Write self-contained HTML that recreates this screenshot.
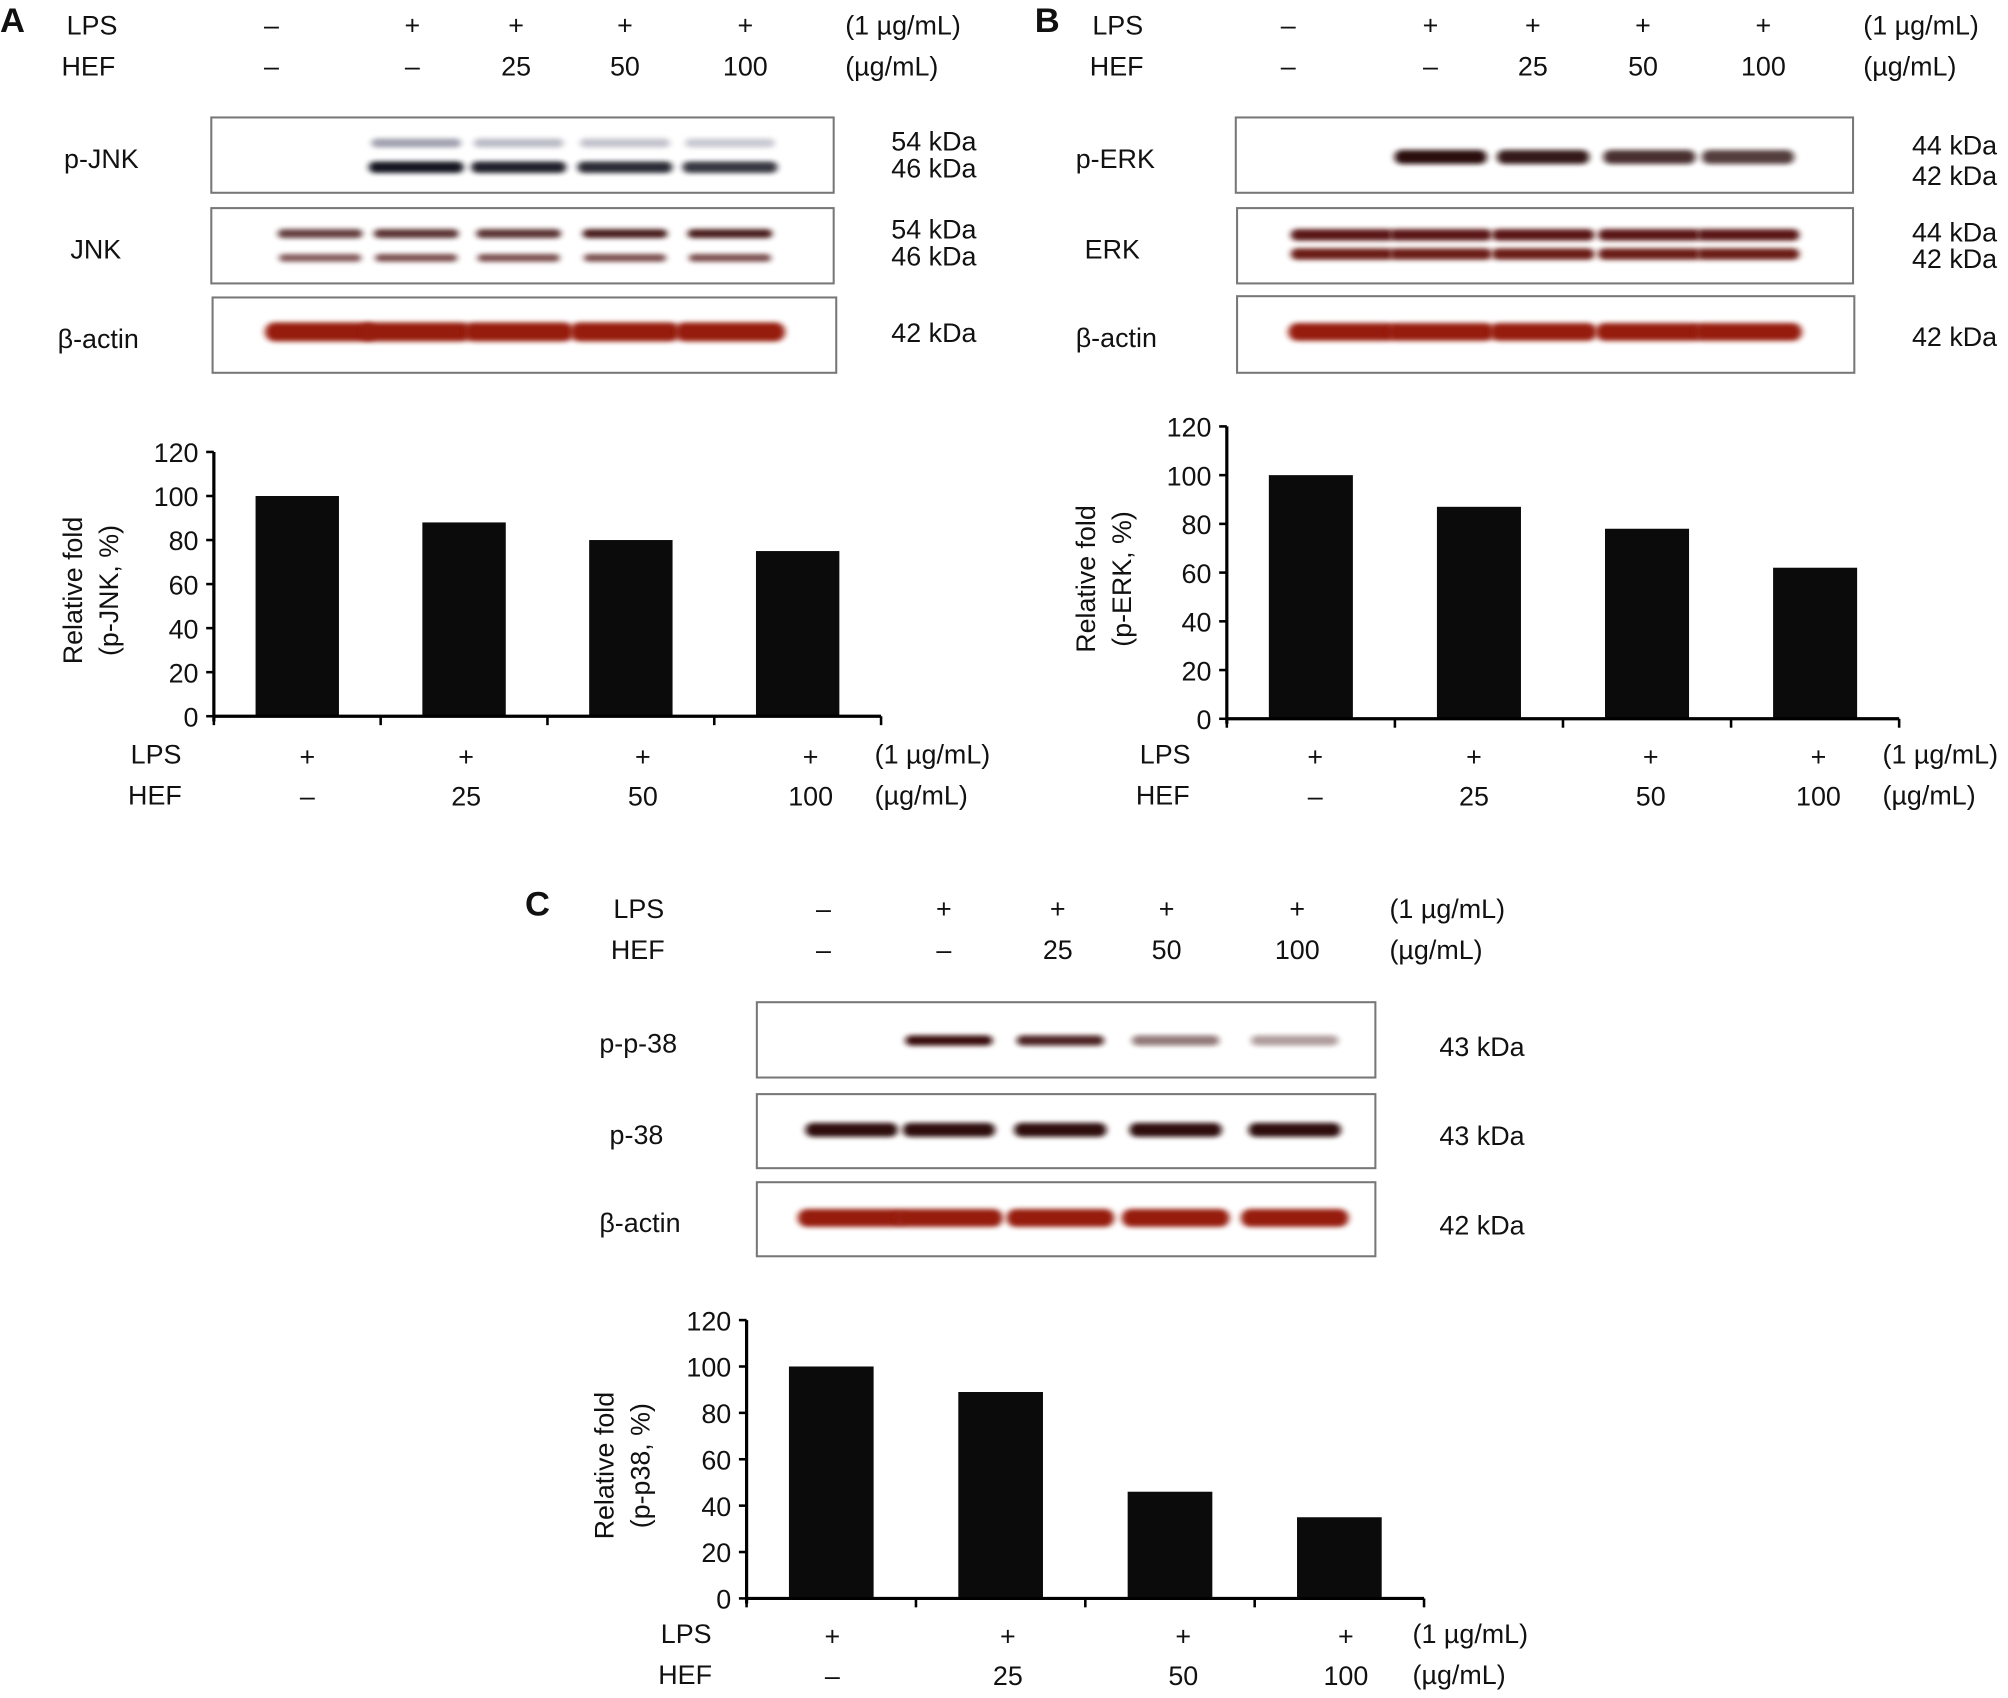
<!DOCTYPE html>
<html><head><meta charset="utf-8"><style>
html,body{margin:0;padding:0;background:#fff;}
svg{display:block;}
text{font-family:"Liberation Sans",sans-serif;fill:#111;}
</style></head><body>
<svg id="fig" width="2008" height="1698" viewBox="0 0 1568 1330" preserveAspectRatio="none" xmlns="http://www.w3.org/2000/svg">
<defs>
<filter id="blur" x="-20%" y="-100%" width="140%" height="300%"><feGaussianBlur stdDeviation="2.5 1.8"/></filter>
</defs>
<g id="root"></g>
</svg>
<script>
// ---- chart data ----
const categories = ["LPS+ / HEF–", "LPS+ / HEF 25", "LPS+ / HEF 50", "LPS+ / HEF 100"];
const jnkValues = [100, 88, 80, 75];
const erkValues = [100, 87, 78, 62];
const p38Values = [100, 89, 46, 35];
const yTicks = [0, 20, 40, 60, 80, 100, 120];
const lpsLabels = ["+", "+", "+", "+"];
const hefLabels = ["–", "25", "50", "100"];
const topLps = ["–", "+", "+", "+", "+"];
const topHef = ["–", "–", "25", "50", "100"];

const NS = "http://www.w3.org/2000/svg";
const root = document.getElementById('root');
function el(tag, attrs, parent, txt) {
  const e = document.createElementNS(NS, tag);
  for (const k in attrs) e.setAttribute(k, attrs[k]);
  if (txt !== undefined) e.textContent = txt;
  (parent || root).appendChild(e);
  return e;
}
function txt(x, y, s, name, opts) {
  opts = opts || {};
  const t = el('text', {x: x, y: y, 'font-size': opts.size || 21, 'text-anchor': opts.anchor || 'start', 'font-weight': opts.weight || 'normal'}, opts.parent, s);
  if (opts.transform) t.setAttribute('transform', opts.transform);
  
  
  return t;
}

function header(letter, lx, lpsX, hefX, colX, unitX, y0) {
  txt(lx, y0 + 12, letter, 'panel-label-' + letter.toLowerCase(), {size: 27, weight: 'bold'});
  txt(lpsX, y0 + 14, 'LPS', 'lps-row-label');
  txt(hefX, y0 + 46, 'HEF', 'hef-row-label');
  colX.forEach((x, i) => {
    txt(x, y0 + 14, topLps[i], 'lps-sign', {anchor: 'middle'});
    txt(x, y0 + 46, topHef[i], 'hef-dose', {anchor: 'middle'});
  });
  txt(unitX, y0 + 14, '(1 µg/mL)', 'lps-unit');
  txt(unitX, y0 + 46, '(µg/mL)', 'hef-unit');
}

function blot(x0, x1, y0, y1, label, labelX, kdas, kdaX, bands) {
  const g = el('g', {});
  
  
  el('rect', {x: x0, y: y0, width: x1 - x0, height: y1 - y0, fill: '#fff', stroke: '#777', 'stroke-width': 1.6}, g);
  bands.forEach(b => {
    const r = el('rect', {x: b.cx - b.w / 2, y: b.cy - b.h / 2, width: b.w, height: b.h, rx: b.h / 2, fill: b.c, filter: 'url(#blur)', opacity: b.o || 1}, g);
    
    
  });
  txt(labelX, (y0 + y1) / 2 + 10, label, 'blot-label', {parent: g});
  kdas.forEach(k => txt(kdaX, k.y + 8, k.t, 'kda-label', {parent: g}));
}

function chart(id, vals, ax, x1, y0px, y120px, ticks, labX, title, lpsX, hefX, signX, unitX, lpsY) {
  const g = el('g', {});
  
  
  const ys = v => y0px - (y0px - y120px) * v / 120;
  const bw = (x1 - ax) / vals.length;
  const xs = i => ax + bw * i + bw / 2;
  vals.forEach((v, i) => {
    const r = el('rect', {x: xs(i) - bw * 0.25, y: ys(v), width: bw * 0.5, height: y0px - ys(v), fill: '#0b0b0b'}, g);
    
    
  });
  el('line', {x1: ax, y1: y120px, x2: ax, y2: y0px + 4, stroke: '#000', 'stroke-width': 2.5}, g);
  el('line', {x1: ax, y1: y0px, x2: x1, y2: y0px, stroke: '#000', 'stroke-width': 2.5}, g);
  yTicks.forEach(t => {
    el('line', {x1: ax - 6, y1: ys(t), x2: ax, y2: ys(t), stroke: '#000', 'stroke-width': 2}, g);
    txt(ax - 12, ys(t) + 8, String(t), 'y-tick-label', {anchor: 'end', parent: g});
  });
  for (let i = 0; i <= vals.length; i++) {
    el('line', {x1: ax + bw * i, y1: y0px, x2: ax + bw * i, y2: y0px + 7, stroke: '#000', 'stroke-width': 2}, g);
  }
  txt(0, 0, 'Relative fold', 'y-axis-title', {anchor: 'middle', parent: g, transform: `translate(${labX + 2},${(y0px + y120px) / 2 + 5}) rotate(-90)`});
  txt(0, 0, title, 'y-axis-title-sub', {anchor: 'middle', parent: g, transform: `translate(${labX + 30},${(y0px + y120px) / 2 + 5}) rotate(-90)`});
  txt(lpsX, lpsY + 8, 'LPS', 'x-lps-label', {parent: g});
  txt(hefX, lpsY + 40, 'HEF', 'x-hef-label', {parent: g});
  vals.forEach((v, i) => {
    txt(signX[i], lpsY + 10, lpsLabels[i], 'x-lps-sign', {anchor: 'middle', parent: g});
    txt(signX[i], lpsY + 41, hefLabels[i], 'x-hef-dose', {anchor: 'middle', parent: g});
  });
  txt(unitX, lpsY + 8, '(1 µg/mL)', 'x-lps-unit', {parent: g});
  txt(unitX, lpsY + 40, '(µg/mL)', 'x-hef-unit', {parent: g});
}

function lanes(cs, cy, w, h, col, ops) {
  return cs.map((cx, i) => ({cx: cx, cy: cy, w: w, h: h, c: col, o: ops ? ops[i] : 1}));
}

// ---- Panel A ----
header('A', 0, 52, 48, [212, 322, 403, 488, 582], 660, 13);
const aL = [250, 325, 405, 488, 570];
blot(165, 651, 92, 151, 'p-JNK', 50, [{y: 110, t: '54 kDa'}, {y: 131, t: '46 kDa'}], 696,
  lanes(aL.slice(1), 112, 70, 7, '#7a7a90', [0.7, 0.5, 0.45, 0.4]).concat(lanes(aL.slice(1), 131, 74, 9, '#141422', [1, 0.95, 0.9, 0.85])));
blot(165, 651, 163, 222, 'JNK', 55, [{y: 179, t: '54 kDa'}, {y: 200, t: '46 kDa'}], 696,
  lanes(aL, 183, 66, 7, '#4a1a1a', [0.85, 0.9, 0.9, 1, 1]).concat(lanes(aL, 202, 64, 6, '#5a2424', [0.75, 0.8, 0.8, 0.8, 0.8])));
blot(166, 653, 233, 292, 'β-actin', 45, [{y: 260, t: '42 kDa'}], 696,
  lanes(aL, 260, 86, 15, '#961a10'));
chart('jnk', jnkValues, 167, 688, 561, 354, yTicks, 62, '(p-JNK, %)', 102, 100, [240, 364, 502, 633], 683, 590);

// ---- Panel B ----
header('B', 808, 853, 851, [1006, 1117, 1197, 1283, 1377], 1455, 13);
const bL = [1048, 1125, 1205, 1288, 1365];
blot(965, 1447, 92, 151, 'p-ERK', 840, [{y: 113, t: '44 kDa'}, {y: 137, t: '42 kDa'}], 1493,
  lanes(bL.slice(1), 123, 72, 11, '#2a0a0a', [1, 0.95, 0.85, 0.8]));
blot(966, 1447, 163, 222, 'ERK', 847, [{y: 181, t: '44 kDa'}, {y: 202, t: '42 kDa'}], 1493,
  lanes(bL, 184, 80, 9, '#5a1412').concat(lanes(bL, 199, 80, 9, '#6a1a14')));
blot(966, 1448, 232, 292, 'β-actin', 840, [{y: 263, t: '42 kDa'}], 1493,
  lanes(bL, 260, 84, 14, '#961a10'));
chart('erk', erkValues, 958, 1483, 563, 334, yTicks, 853, '(p-ERK, %)', 890, 887, [1027, 1151, 1289, 1420], 1470, 590);

// ---- Panel C ----
header('C', 410, 479, 477, [643, 737, 826, 911, 1013], 1085, 705);
const cL = [665, 741, 828, 918, 1011];
blot(591, 1074, 785, 844, 'p-p-38', 468, [{y: 819, t: '43 kDa'}], 1124,
  lanes(cL.slice(1), 815, 68, 8, '#3a1010', [1, 0.9, 0.55, 0.4]));
blot(591, 1074, 857, 915, 'p-38', 476, [{y: 889, t: '43 kDa'}], 1124,
  lanes(cL, 885, 72, 11, '#2e0c0a'));
blot(591, 1074, 926, 984, 'β-actin', 468, [{y: 959, t: '42 kDa'}], 1124,
  lanes(cL, 954, 84, 14, '#961a10'));
chart('p38', p38Values, 583, 1112, 1252, 1034, yTicks, 477, '(p-p38, %)', 516, 514, [650, 787, 924, 1051], 1103, 1279);
</script>
</body></html>
